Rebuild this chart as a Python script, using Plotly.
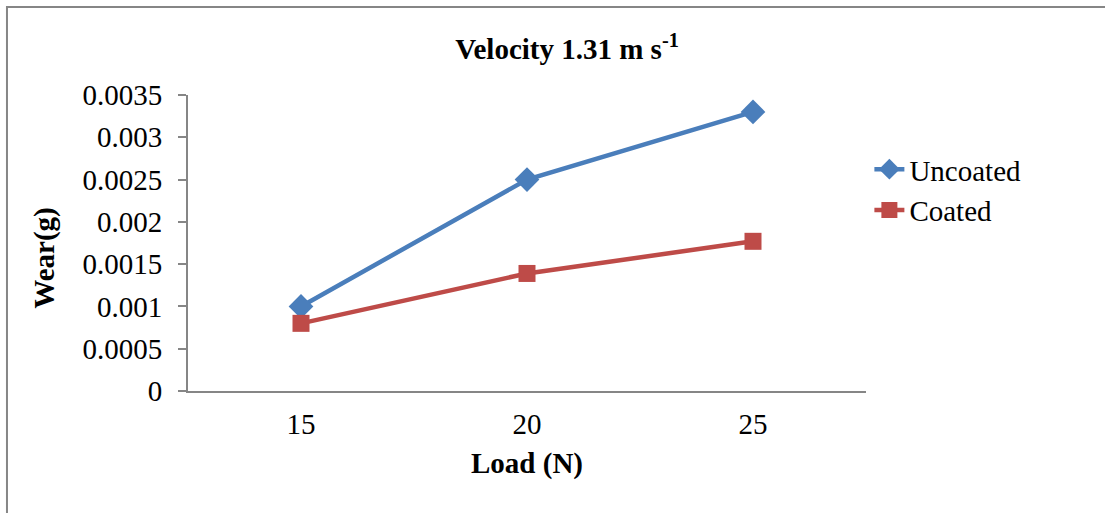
import plotly.graph_objects as go

# Wear measurements at velocity 1.31 m/s
loads = [15, 20, 25]
uncoated = [0.0010, 0.0025, 0.0033]
coated = [0.00080, 0.00139, 0.00177]
y_ticks = [0, 0.0005, 0.001, 0.0015, 0.002, 0.0025, 0.003, 0.0035]
y_tick_text = ["0", "0.0005", "0.001", "0.0015", "0.002", "0.0025", "0.003", "0.0035"]

FONT = "Liberation Serif, Times New Roman, serif"
BLUE = "#4A7EBB"
RED = "#BE4B48"
AXIS = "#868686"
FS = 29

fig = go.Figure()
fig.add_trace(go.Scatter(
    x=loads, y=uncoated, name="Uncoated", mode="lines+markers",
    line=dict(color=BLUE, width=4.5),
    marker=dict(symbol="diamond", size=19, color=BLUE),
))
fig.add_trace(go.Scatter(
    x=loads, y=coated, name="Coated", mode="lines+markers",
    line=dict(color=RED, width=4.5),
    marker=dict(symbol="square", size=17, color=RED),
))

# outer chart frame
fig.add_shape(type="rect", xref="paper", yref="paper",
              x0=-0.267, x1=1.6, y0=-0.6, y1=1.297,
              line=dict(color=AXIS, width=2), fillcolor="rgba(0,0,0,0)")

# vertical axis title
fig.add_annotation(text="<b>Wear(g)</b>", xref="paper", yref="paper",
                   x=-0.211, y=0.45, xanchor="center", yanchor="middle",
                   textangle=-90, showarrow=False,
                   font=dict(family=FONT, size=FS, color="black"))

fig.update_layout(
    width=1105, height=513,
    margin=dict(l=188, r=239, t=95, b=122),
    paper_bgcolor="white", plot_bgcolor="white",
    font=dict(family=FONT, size=FS, color="black"),
    title=dict(text="<b>Velocity 1.31 m s<sup>-1</sup></b>", x=0.559, xref="paper",
               xanchor="center", y=0.905, yanchor="middle",
               font=dict(family=FONT, size=FS, color="black")),
    showlegend=True,
    legend=dict(x=1.005, y=0.835, xanchor="left", yanchor="top",
                font=dict(family=FONT, size=FS, color="black"),
                bgcolor="rgba(0,0,0,0)", tracegroupgap=0, itemwidth=30),
    xaxis=dict(
        range=[12.5, 27.5], tickvals=loads, ticktext=[str(v) for v in loads],
        showgrid=False, zeroline=False, showline=True, linecolor=AXIS, linewidth=2,
        ticks="", tickfont=dict(family=FONT, size=FS), ticklabelstandoff=6,
        title=dict(text="<b>Load (N)</b>", font=dict(family=FONT, size=FS), standoff=14),
    ),
    yaxis=dict(
        range=[0, 0.0035], tickvals=y_ticks, ticktext=y_tick_text,
        showgrid=False, zeroline=False, showline=True, linecolor=AXIS, linewidth=2,
        ticks="outside", ticklen=8, tickcolor=AXIS, tickwidth=2,
        tickfont=dict(family=FONT, size=FS), ticklabelstandoff=10,
    ),
)

fig.write_html("out.html")
